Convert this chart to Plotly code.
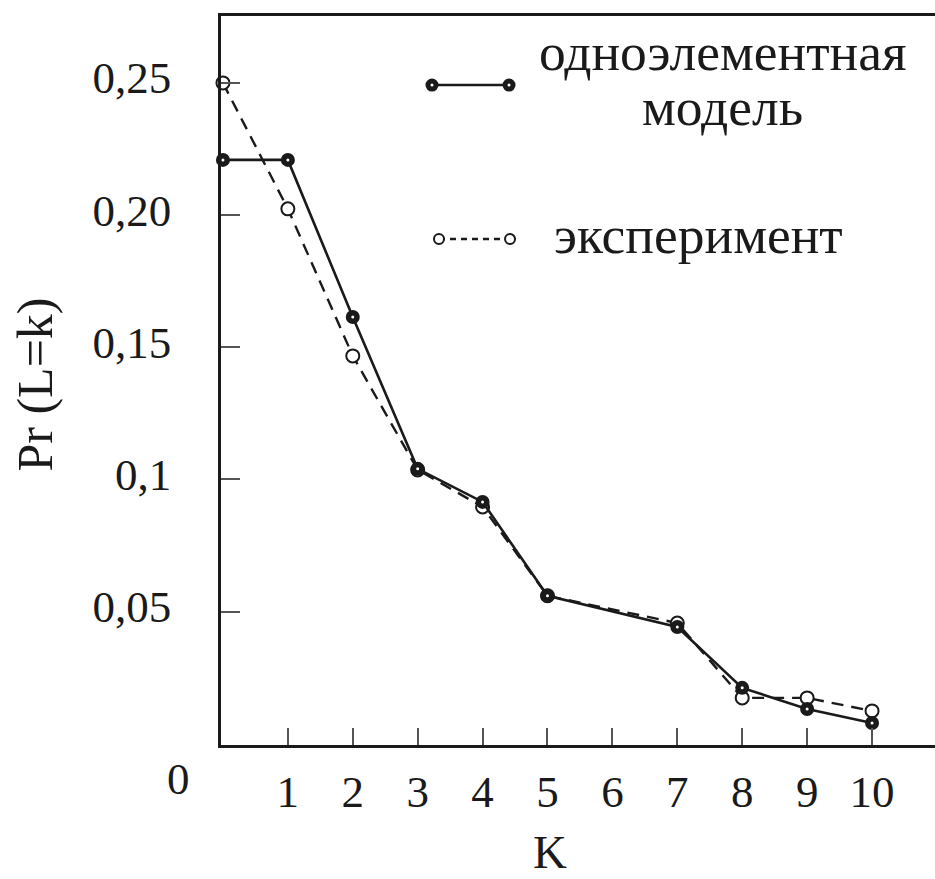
import plotly.graph_objects as go

# ---- data ----
k_model = [0, 1, 2, 3, 4, 5, 7, 8, 9, 10]
pr_model = [0.2208, 0.2208, 0.1614, 0.1040, 0.0915, 0.0560, 0.0442, 0.0212, 0.0132, 0.0079]

k_exp = [0, 1, 2, 3, 4, 5, 7, 8, 9, 10]
pr_exp = [0.2499, 0.2023, 0.1467, 0.1036, 0.0896, 0.0560, 0.0457, 0.0174, 0.0174, 0.0125]

x_ticks = [1, 2, 3, 4, 5, 6, 7, 8, 9, 10]
x_tick_labels = ["1", "2", "3", "4", "5", "6", "7", "8", "9", "10"]
y_ticks = [0.05, 0.10, 0.15, 0.20, 0.25]
y_tick_labels = ["0,05", "0,1", "0,15", "0,20", "0,25"]

label_model_1 = "одноэлементная"
label_model_2 = "модель"
label_exp = "эксперимент"
x_title = "K"
y_title = "Pr (L=k)"

FONT = "Liberation Serif"
INK = "#1a1a1a"

fig = go.Figure()

# experiment (dashed, open circles)
fig.add_trace(go.Scatter(
    x=k_exp, y=pr_exp, mode="lines+markers",
    line=dict(color=INK, width=2.4, dash="12px,8px"),
    marker=dict(symbol="circle", size=13, color="white", line=dict(color=INK, width=2)),
    showlegend=False, cliponaxis=False,
))
# model (solid, filled circles with white centre dot)
fig.add_trace(go.Scatter(
    x=k_model, y=pr_model, mode="lines+markers",
    line=dict(color=INK, width=2.6),
    marker=dict(symbol="circle", size=14, color=INK, line=dict(width=0)),
    showlegend=False, cliponaxis=False,
))
fig.add_trace(go.Scatter(
    x=k_model, y=pr_model, mode="markers",
    marker=dict(symbol="circle", size=3, color="white", line=dict(width=0)),
    showlegend=False, cliponaxis=False, hoverinfo="skip",
))

# ---- manual legend ----
shapes = []
# model sample
shapes.append(dict(type="line", xref="paper", yref="paper",
                   x0=0.2955, x1=0.4034, y0=0.9053, y1=0.9053,
                   line=dict(color=INK, width=2.5)))
for xa in (0.2955, 0.4034):
    shapes.append(dict(type="circle", xref="paper", yref="paper",
                       xsizemode="pixel", ysizemode="pixel", xanchor=xa, yanchor=0.9053,
                       x0=-6.5, x1=6.5, y0=-6.5, y1=6.5,
                       fillcolor=INK, line=dict(width=0)))
    shapes.append(dict(type="circle", xref="paper", yref="paper",
                       xsizemode="pixel", ysizemode="pixel", xanchor=xa, yanchor=0.9053,
                       x0=-1.5, x1=1.5, y0=-1.5, y1=1.5,
                       fillcolor="white", line=dict(width=0)))
# experiment sample
shapes.append(dict(type="line", xref="paper", yref="paper",
                   x0=0.3053, x1=0.4048, y0=0.6941, y1=0.6941,
                   line=dict(color=INK, width=2.5, dash="6px,5px")))
for xa in (0.3053, 0.4048):
    shapes.append(dict(type="circle", xref="paper", yref="paper",
                       xsizemode="pixel", ysizemode="pixel", xanchor=xa, yanchor=0.6941,
                       x0=-5, x1=5, y0=-5, y1=5,
                       fillcolor="white", line=dict(color=INK, width=2)))

annotations = [
    dict(text=label_model_1, xref="paper", yref="paper", x=0.703, y=0.9506,
         xanchor="center", yanchor="middle", showarrow=False,
         font=dict(family=FONT, size=53.5, color=INK)),
    dict(text=label_model_2, xref="paper", yref="paper", x=0.703, y=0.8752,
         xanchor="center", yanchor="middle", showarrow=False,
         font=dict(family=FONT, size=53.5, color=INK)),
    dict(text=label_exp, xref="paper", yref="paper", x=0.4636, y=0.6996,
         xanchor="left", yanchor="middle", showarrow=False,
         font=dict(family=FONT, size=53.5, color=INK)),
    dict(text="0", xref="paper", yref="paper", x=-0.0602, y=-0.0466,
         xanchor="center", yanchor="middle", showarrow=False,
         font=dict(family=FONT, size=45, color=INK)),
    dict(text=x_title, xref="paper", yref="paper", x=0.4608, y=-0.1470,
         xanchor="center", yanchor="middle", showarrow=False,
         font=dict(family=FONT, size=47, color=INK)),
    dict(text=y_title, xref="paper", yref="paper", x=-0.2605, y=0.4945,
         xanchor="center", yanchor="middle", showarrow=False, textangle=-90,
         font=dict(family=FONT, size=50, color=INK)),
]

fig.update_layout(
    width=935, height=879,
    margin=dict(l=221, r=0, t=16, b=134),
    paper_bgcolor="white", plot_bgcolor="white",
    font=dict(family=FONT, size=45, color=INK),
    shapes=shapes, annotations=annotations,
    xaxis=dict(
        range=[-0.03, 10.97], showgrid=False, zeroline=False,
        showline=True, linecolor=INK, linewidth=2.5, mirror=True,
        tickmode="array", tickvals=x_ticks, ticktext=x_tick_labels,
        ticks="inside", ticklen=17, tickwidth=1.5, tickcolor="#555",
        ticklabelstandoff=5,
        tickfont=dict(family=FONT, size=45, color=INK),
    ),
    yaxis=dict(
        range=[-0.0004, 0.2752], showgrid=False, zeroline=False,
        showline=True, linecolor=INK, linewidth=2.5, mirror=False,
        tickmode="array", tickvals=y_ticks, ticktext=y_tick_labels,
        ticks="inside", ticklen=19, tickwidth=1.5, tickcolor="#555",
        ticklabelstandoff=38, ticklabelshift=-5,
        tickfont=dict(family=FONT, size=45, color=INK),
    ),
)

fig.write_html("out.html")
